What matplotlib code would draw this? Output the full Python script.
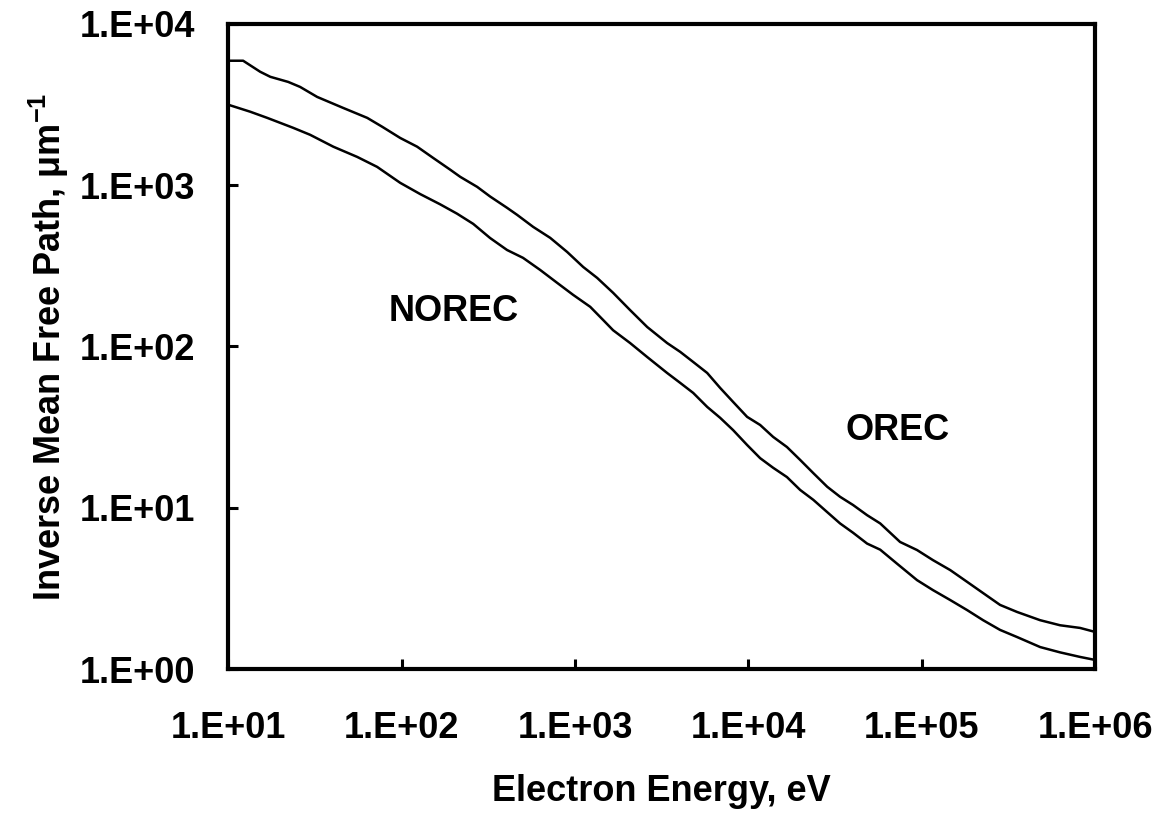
import matplotlib
matplotlib.use("Agg")
import matplotlib.pyplot as plt
from matplotlib.ticker import FixedLocator, FixedFormatter, NullLocator

plt.rcParams['font.family'] = ['Liberation Sans', 'DejaVu Sans']
plt.rcParams['font.weight'] = 'bold'
plt.rcParams['mathtext.fontset'] = 'custom'
plt.rcParams['mathtext.rm'] = 'Liberation Sans:bold'
plt.rcParams['mathtext.bf'] = 'Liberation Sans:bold'
plt.rcParams['mathtext.default'] = 'bf'

# OREC curve (upper)
orec_energy = [10, 12.2, 15.3, 17.5, 22.2, 26.0, 32.6, 46.0, 63.4, 77.3, 98.2, 123,
               152, 191, 218, 273, 324, 406, 464, 574, 720, 902, 1115, 1343, 1660,
               2080, 2610, 3400, 4050, 4810, 5790, 6880, 8170, 9840, 11700, 13900,
               16700, 19900, 23700, 28500, 33800, 40200, 48400, 57600, 75000,
               94000, 116000, 146000, 183000, 226000, 283000, 355000, 482000,
               628000, 819000, 1e6]
orec_imfp = [5900, 5900, 5040, 4690, 4360, 4060, 3520, 3010, 2610, 2300, 1960, 1730,
             1475, 1245, 1125, 975, 850, 723, 654, 551, 471, 385, 311, 266, 215,
             168, 132, 105, 92.5, 80.1, 68.5, 55.3, 45.3, 36.6, 32.6, 27.5,
             23.8, 19.8, 16.4, 13.5, 11.7, 10.4, 9.0, 8.0, 6.14,
             5.47, 4.74, 4.11, 3.47, 2.96, 2.50, 2.26, 2.01,
             1.87, 1.80, 1.70]

# NOREC curve (lower)
norec_energy = [10, 13.4, 16.8, 23.7, 29.7, 40.4, 55.5, 72.3, 98.2, 128, 167, 209,
                259, 324, 406, 502, 630, 789, 975, 1225, 1453, 1660, 2080, 2610,
                3400, 4050, 4810, 5790, 6880, 8170, 9840, 11700, 13900, 16700,
                19900, 23700, 28500, 33800, 40200, 48400, 57600, 72100, 94000,
                116000, 146000, 183000, 226000, 283000, 355000, 482000, 628000,
                819000, 1e6]
norec_imfp = [3150, 2850, 2610, 2265, 2050, 1730, 1495, 1297, 1033, 880, 760, 665,
              575, 470, 396, 354, 298, 248, 209, 176, 146, 126, 105, 86,
              68.5, 59.4, 51.5, 42.2, 36.1, 30.3, 24.5, 20.3, 17.7, 15.5,
              12.9, 11.2, 9.4, 8.0, 7.0, 6.0, 5.5, 4.5, 3.56,
              3.09, 2.68, 2.32, 2.01, 1.75, 1.58, 1.37, 1.27,
              1.19, 1.14]

x_ticks = [1e1, 1e2, 1e3, 1e4, 1e5, 1e6]
x_tick_labels = ["1.E+01", "1.E+02", "1.E+03", "1.E+04", "1.E+05", "1.E+06"]
y_ticks = [1e0, 1e1, 1e2, 1e3, 1e4]
y_tick_labels = ["1.E+00", "1.E+01", "1.E+02", "1.E+03", "1.E+04"]

fig = plt.figure(figsize=(11.7, 8.19), dpi=100)
ax = fig.add_axes([0.195, 0.183, 0.741, 0.788])

ax.plot(orec_energy, orec_imfp, color='black', lw=1.8)
ax.plot(norec_energy, norec_imfp, color='black', lw=1.8)

ax.set_xscale('log')
ax.set_yscale('log')
ax.set_xlim(1e1, 1e6)
ax.set_ylim(1e0, 1e4)

ax.xaxis.set_major_locator(FixedLocator(x_ticks))
ax.xaxis.set_major_formatter(FixedFormatter(x_tick_labels))
ax.yaxis.set_major_locator(FixedLocator(y_ticks))
ax.yaxis.set_major_formatter(FixedFormatter(y_tick_labels))
ax.xaxis.set_minor_locator(NullLocator())
ax.yaxis.set_minor_locator(NullLocator())

ax.tick_params(axis='both', direction='in', length=7, width=2.2, labelsize=26)
ax.tick_params(axis='x', pad=30)
ax.tick_params(axis='y', pad=24)
for lab in ax.get_xticklabels() + ax.get_yticklabels():
    lab.set_fontweight('bold')

for sp in ax.spines.values():
    sp.set_linewidth(3)

ax.set_xlabel("Electron Energy, eV", fontsize=26, fontweight='bold', labelpad=20)
ax.set_ylabel("Inverse Mean Free Path, μm$^{-1}$", fontsize=26, fontweight='bold', labelpad=6)

ax.text(199, 164, "NOREC", fontsize=26, fontweight='bold', ha='center', va='center')
ax.text(72100, 30.3, "OREC", fontsize=26, fontweight='bold', ha='center', va='center')

fig.savefig("out.png", dpi=100)
